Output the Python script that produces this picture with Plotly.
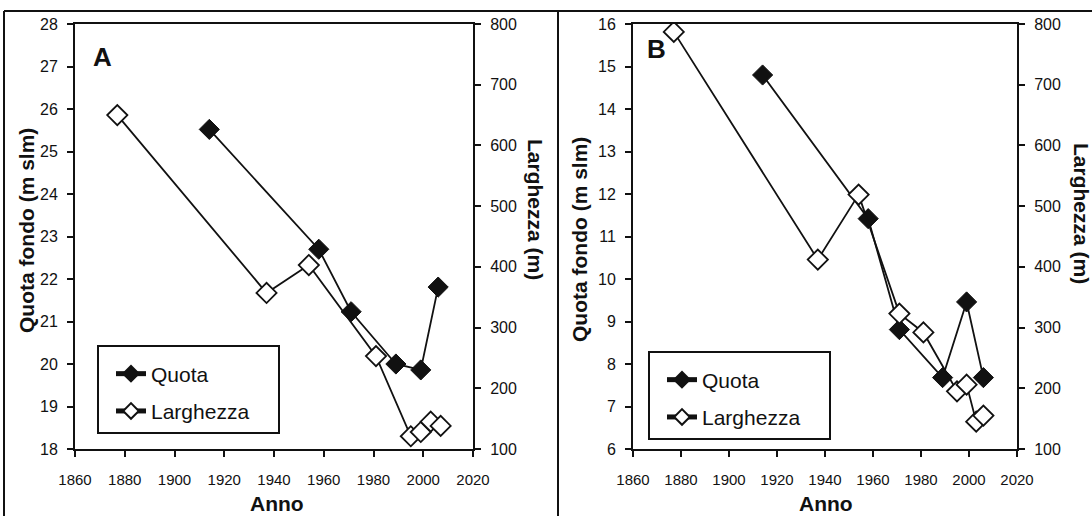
import plotly.graph_objects as go

# ---- data ----
years_quota_A = [1914, 1958, 1971, 1989, 1999, 2006]
quota_A = [25.52, 22.70, 21.23, 20.00, 19.86, 21.81]
years_larg_A = [1877, 1937, 1954, 1981, 1995, 1999, 2003, 2007]
larg_A = [650, 357, 403, 253, 121, 128, 145, 138]

years_quota_B = [1914, 1958, 1971, 1989, 1999, 2006]
quota_B = [14.80, 11.42, 8.81, 7.68, 9.46, 7.68]
years_larg_B = [1877, 1937, 1954, 1971, 1981, 1995, 1999, 2003, 2006]
larg_B = [787, 412, 519, 323, 292, 195, 206, 145, 155]

x_ticks = [1860, 1880, 1900, 1920, 1940, 1960, 1980, 2000, 2020]
panel_labels = ["A", "B"]
x_title = "Anno"
left_title = "Quota fondo (m slm)"
right_title = "Larghezza (m)"
series_names = ["Quota", "Larghezza"]

W, H = 1092, 516
FONT = "Arial, 'Liberation Sans', sans-serif"
INK = "#111111"


def px(v):
    return v / W


def py(v):
    return 1 - v / H


domA = [px(75), px(473)]
domB = [px(633), px(1017)]
ydom = [py(449), py(24)]

fig = go.Figure()

line_style = dict(color=INK, width=1.8)
filled = dict(symbol="diamond", size=15.5, color=INK, line=dict(color=INK, width=1))
hollow = dict(symbol="diamond", size=15.5, color="white", line=dict(color=INK, width=1.8))
pad = "\u00a0" * 4

fig.add_trace(go.Scatter(x=years_quota_A, y=quota_A, xaxis="x", yaxis="y",
                         mode="lines+markers", name=series_names[0], line=line_style,
                         marker=filled, legend="legend", legendgroup="qa"))
fig.add_trace(go.Scatter(x=years_larg_A, y=larg_A, xaxis="x", yaxis="y2",
                         mode="lines+markers", name=series_names[1] + pad, line=line_style,
                         marker=hollow, legend="legend", legendgroup="la"))
fig.add_trace(go.Scatter(x=years_quota_B, y=quota_B, xaxis="x2", yaxis="y3",
                         mode="lines+markers", name=series_names[0], line=line_style,
                         marker=filled, legend="legend2", legendgroup="qb"))
fig.add_trace(go.Scatter(x=years_larg_B, y=larg_B, xaxis="x2", yaxis="y4",
                         mode="lines+markers", name=series_names[1] + pad, line=line_style,
                         marker=hollow, legend="legend2", legendgroup="lb"))

xcommon = dict(range=[1860, 2020], tickvals=x_ticks, ticks="outside", ticklen=6,
               tickwidth=2, tickcolor=INK, showline=True, linewidth=2, linecolor=INK,
               mirror=True, showgrid=False, zeroline=False,
               tickfont=dict(size=15, color=INK, family=FONT), ticklabelstandoff=10)
ycommon = dict(ticks="outside", ticklen=6, tickwidth=2, tickcolor=INK, showline=True,
               linewidth=2, linecolor=INK, showgrid=False, zeroline=False,
               tickfont=dict(size=16, color=INK, family=FONT), ticklabelstandoff=6)

legend_common = dict(bgcolor="white", bordercolor=INK, borderwidth=2,
                     font=dict(size=21, color=INK, family=FONT),
                     xanchor="left", yanchor="top", tracegroupgap=7,
                     traceorder="grouped", itemsizing="constant", indentation=12,
                     title=dict(text="\u00a0", font=dict(size=5)))

fig.update_layout(
    width=W, height=H,
    margin=dict(l=0, r=0, t=0, b=0, autoexpand=False),
    paper_bgcolor="white", plot_bgcolor="white",
    font=dict(family=FONT, color=INK),
    showlegend=True,
    xaxis=dict(domain=domA, anchor="y", **xcommon),
    yaxis=dict(domain=ydom, anchor="x", range=[18, 28], dtick=1, side="left", **ycommon),
    yaxis2=dict(domain=ydom, anchor="x", overlaying="y", side="right",
                range=[100, 800], dtick=100, **ycommon),
    xaxis2=dict(domain=domB, anchor="y3", **xcommon),
    yaxis3=dict(domain=ydom, anchor="x2", range=[6, 16], dtick=1, side="left", **ycommon),
    yaxis4=dict(domain=ydom, anchor="x2", overlaying="y3", side="right",
                range=[100, 800], dtick=100, **ycommon),
    legend=dict(x=px(97), y=py(345), **legend_common),
    legend2=dict(x=px(648), y=py(351), **legend_common),
)

# outer frame lines
frame = dict(color=INK, width=2)
fig.add_shape(type="line", xref="paper", yref="paper", x0=px(4), x1=1, y0=py(11), y1=py(11), line=frame)
fig.add_shape(type="line", xref="paper", yref="paper", x0=px(4), x1=px(4), y0=py(11), y1=0, line=frame)
fig.add_shape(type="line", xref="paper", yref="paper", x0=px(558), x1=px(558), y0=py(11), y1=0, line=frame)


def ann(text, x, y, angle=0, size=21):
    fig.add_annotation(text=f"<b>{text}</b>", xref="paper", yref="paper",
                       x=px(x), y=py(y), showarrow=False, textangle=angle,
                       xanchor="center", yanchor="middle",
                       font=dict(size=size, color=INK, family=FONT))


ann(panel_labels[0], 102.5, 57.5, size=26)
ann(panel_labels[1], 656, 49.5, size=26)
ann(x_title, 277, 503)
ann(x_title, 826, 503)
ann(left_title, 26, 231, angle=-90)
ann(left_title, 580, 240, angle=-90)
ann(right_title, 536, 209, angle=90)
ann(right_title, 1082, 213, angle=90)

fig.write_html("out.html", config={"displayModeBar": False},
               post_script="document.body.style.margin='0';document.body.style.overflow='hidden';")
